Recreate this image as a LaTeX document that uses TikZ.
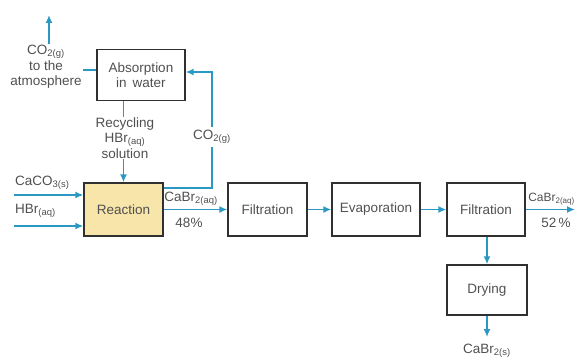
\documentclass[tikz,border=0pt]{standalone}
\usepackage{fontspec}
\setmainfont{Liberation Sans}
\usetikzlibrary{arrows.meta,positioning,calc}
\definecolor{flow}{HTML}{2A98C2}
\definecolor{txt}{HTML}{505050}
\definecolor{reacfill}{HTML}{F8E5AA}
\definecolor{boxline}{HTML}{303030}

\begin{document}
\begin{tikzpicture}[x=1pt,y=-1pt,
  box/.style={draw=boxline,line width=1.4pt,minimum height=51pt,align=center,
    text=txt,font=\fontsize{13.5}{15}\selectfont},
  flw/.style={draw=flow,line width=1.5pt},
  arr/.style={flw,-{Latex[length=8pt,width=7pt]}},
  lbl/.style={text=txt,font=\fontsize{13.5}{15.5}\selectfont,align=center,inner sep=1pt}]
\useasboundingbox (0,0) rectangle (576,361);
\node[box,minimum width=88pt] (absorp) at (141,75) {Absorption\\in\, water};
\node[box,minimum width=79pt,minimum height=53pt,fill=reacfill] (reac) at (123.5,209.5) {Reaction};
\node[box,minimum width=79pt,minimum height=53pt] (filt1) at (267.5,209.5) {Filtration};
\node[box,minimum width=88pt,minimum height=53pt] (evap) at (376,209.5) {Evaporation};
\node[box,minimum width=78pt,minimum height=53pt] (filt2) at (486,209.5) {Filtration};
\node[box,minimum width=80pt,minimum height=50pt] (dry) at (487,290) {Drying};
\node[lbl] (atm) at (46,67) {CO\textsubscript{2(g)}\\to the\\atmosphere};
\coordinate (sky) at (49,15);
\draw[arr] (atm.north -| sky) -- (sky);
\draw[flw] ([yshift=5pt]absorp.west) -- ++(-13,0);
\node[lbl,anchor=west] (caco) at (14,183) {CaCO\textsubscript{3(s)}};
\node[lbl,anchor=west] (hbr) at (14,211) {HBr\textsubscript{(aq)}};
\coordinate (in1) at (14,195);
\coordinate (in2) at (14,226);
\draw[arr] (in1) -- (in1 -| reac.west);
\draw[arr] (in2) -- (in2 -| reac.west);
\draw[arr] (absorp.south -| reac.north) -- (reac.north);
\node[lbl,fill=white] (recyc) at (125,138) {Recycling\\HBr\textsubscript{(aq)}\\solution};
\coordinate (bend) at (212,188);
\draw[arr] (reac.east |- bend) -- (bend) |- ([yshift=3pt]absorp.east);
\node[lbl,fill=white,inner sep=3pt] (cog) at (212,137) {CO\textsubscript{2(g)}};
\draw[arr] (reac) -- (filt1);
\node[lbl] (cabr1) at (191,199) {CaBr\textsubscript{2(aq)}};
\node[lbl] (pc1) at (189,223) {48\%};
\draw[arr] (filt1) -- (evap);
\draw[arr] (evap) -- (filt2);
\coordinate (out) at (575,209.5);
\draw[arr] (filt2) -- (out);
\node[lbl,anchor=east,font=\fontsize{12}{14}\selectfont] (cabr2) at (576,199) {CaBr\textsubscript{2(aq)}};
\node[lbl] (pc2) at (556,223) {52\,\%};
\draw[arr] (filt2.south -| dry.north) -- (dry.north);
\coordinate (bot) at (487,337);
\draw[arr] (dry.south) -- (bot);
\node[lbl] (cabrs) at (487,351) {CaBr\textsubscript{2(s)}};
\end{tikzpicture}
\end{document}
